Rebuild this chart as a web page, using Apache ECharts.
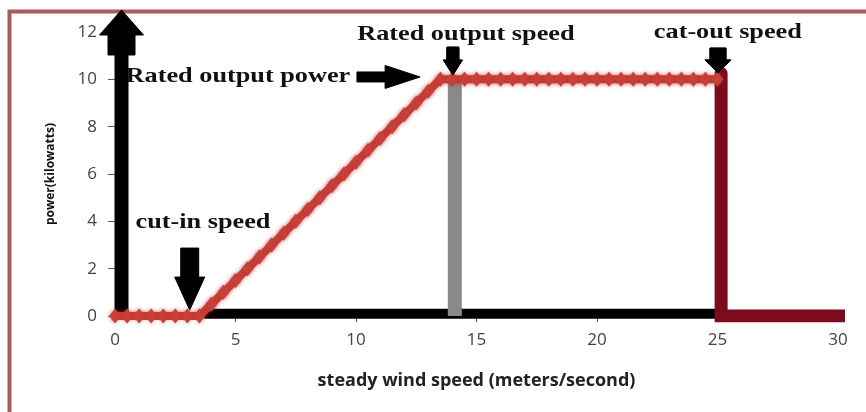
<!DOCTYPE html>
<html>
<head>
<meta charset="utf-8">
<script src="https://cdn.jsdelivr.net/npm/echarts@6/dist/echarts.min.js"></script>
<style>
html,body{margin:0;padding:0;background:#fff;}
#chart{width:866px;height:412px;}
</style>
</head>
<body>
<div id="chart"></div>
<script>
// ---- data ----
const windSpeed = [0,0.5,1,1.5,2,2.5,3,3.5,4,4.5,5,5.5,6,6.5,7,7.5,8,8.5,9,9.5,10,10.5,11,11.5,12,12.5,13,13.5,14,14.5,15,15.5,16,16.5,17,17.5,18,18.5,19,19.5,20,20.5,21,21.5,22,22.5,23,23.5,24,24.5,25];
const powerKW   = [0,0,0,0,0,0,0,0,0.5,1,1.5,2,2.5,3,3.5,4,4.5,5,5.5,6,6.5,7,7.5,8,8.5,9,9.5,10,10,10,10,10,10,10,10,10,10,10,10,10,10,10,10,10,10,10,10,10,10,10,10];
const xTicks = [0,5,10,15,20,25,30];
const yTicks = [0,2,4,6,8,10,12];
// reference lines (speed, power)
const operatingBand = [[3.7,0.1],[25,0.1]];
const ratedSpeedLine = [[14.1,0],[14.1,10]];
const cutOutLine = [[25.15,10.25],[25.15,0],[30.5,0]];
// annotations: text labels
const labelText = ['Rated output speed','Rated output power','cat-out speed','cut-in speed'];
const labelX = [14.56, 5.1, 25.43, 3.65];
const labelY = [11.87, 10.1, 11.96, 3.93];
// arrows: tail -> tip in data units
const arrowFrom = [[0.27,0],[3.1,2.87],[10.04,10.1],[14.02,11.36],[25.02,11.32]];
const arrowTo   = [[0.27,12.93],[3.1,0.25],[12.66,10.1],[14.02,10.18],[25.02,10.27]];
const arrowShape = [ // shaft half width, head length, head half width, collar length, collar half width
  [6.5,25,22,20,13.5],
  [9,33,15,0,0],
  [5,35,11.5,0,0],
  [6,15,9.5,0,0],
  [8,13,13,0,0]
];

const chart = echarts.init(document.getElementById('chart'), null, {renderer:'canvas'});

function arrowItem(params, api){
  const i = params.dataIndex;
  const p1 = api.coord(arrowFrom[i]);
  const p2 = api.coord(arrowTo[i]);
  const [sw, hl, hw, cl, cw] = arrowShape[i];
  const dx = p2[0]-p1[0], dy = p2[1]-p1[1];
  const L = Math.sqrt(dx*dx+dy*dy);
  const ux = dx/L, uy = dy/L, vx = -uy, vy = ux;
  const local = [];
  local.push([0,-sw]);
  if (cl > 0){ local.push([L-hl-cl,-sw]); local.push([L-hl-cl,-cw]); local.push([L-hl,-cw]); }
  else { local.push([L-hl,-sw]); }
  local.push([L-hl,-hw]); local.push([L,0]); local.push([L-hl,hw]);
  if (cl > 0){ local.push([L-hl,cw]); local.push([L-hl-cl,cw]); local.push([L-hl-cl,sw]); }
  else { local.push([L-hl,sw]); }
  local.push([0,sw]);
  const pts = local.map(([a,b]) => [p1[0]+ux*a+vx*b, p1[1]+uy*a+vy*b]);
  return {type:'polygon', shape:{points:pts}, style:{fill:'#000', stroke:'#000', lineWidth:1, lineJoin:'round'}};
}

function labelItem(params, api){
  const i = params.dataIndex;
  const p = api.coord([labelX[i], labelY[i]]);
  return {
    type:'text', x:p[0], y:p[1], scaleX:1.25, scaleY:1,
    style:{text:labelText[i], x:0, y:0, textAlign:'center', textVerticalAlign:'middle',
      font:'bold 21px "Liberation Serif", "Times New Roman", serif', fill:'#111'}
  };
}

const option = {
  animation:false,
  backgroundColor:'#fff',
  grid:{left:115, right:28, top:32, bottom:96},
  graphic:[{type:'rect', shape:{x:9.5, y:11.5, width:900, height:460}, style:{fill:'none', stroke:'#a85c5c', lineWidth:4}, z:-10}],
  xAxis:{
    type:'value', min:0, max:30, interval:5,
    axisLine:{show:false},
    axisTick:{show:true, length:6, lineStyle:{color:'#555'}},
    axisLabel:{margin:16, fontSize:17, color:'#444', fontFamily:'"Open Sans", sans-serif',
      formatter: v => xTicks.includes(v) ? String(v) : ''},
    splitLine:{show:false},
    name:'steady wind speed (meters/second)', nameLocation:'middle', nameGap:56,
    nameTextStyle:{fontSize:18, fontWeight:'bold', color:'#222', fontFamily:'"Open Sans", sans-serif'}
  },
  yAxis:{
    type:'value', min:0, max:12, interval:2,
    axisLine:{show:false},
    axisTick:{show:true, length:7, lineStyle:{color:'#555'}},
    axisLabel:{margin:18, fontSize:17, color:'#444', fontFamily:'"Open Sans", sans-serif',
      formatter: v => yTicks.includes(v) ? String(v) : ''},
    splitLine:{show:false},
    name:'power(kilowatts)', nameLocation:'middle', nameGap:58, nameRotate:90,
    nameTextStyle:{fontSize:12, fontWeight:'bold', color:'#111', fontFamily:'"Open Sans", sans-serif'}
  },
  series:[
    {type:'line', data:operatingBand, symbol:'none', z:2, silent:true,
      lineStyle:{color:'#000', width:10, cap:'butt'}},
    {type:'line', data:ratedSpeedLine, symbol:'none', z:2, silent:true,
      lineStyle:{color:'#8a8a8a', width:14, cap:'butt'}},
    {type:'line', data:cutOutLine, symbol:'none', z:2, silent:true,
      lineStyle:{color:'#7d0b1e', width:13, cap:'round', join:'miter'}},
    {type:'custom', renderItem:arrowItem, data:arrowFrom.map((d,i)=>i), z:3, silent:true},
    {type:'line', data:windSpeed.map((s,i)=>[s, powerKW[i]]), z:4, silent:true,
      symbol:'diamond', symbolSize:[12,15], showAllSymbol:true,
      itemStyle:{color:'#c63f38', shadowBlur:4, shadowColor:'rgba(190,50,40,0.6)'},
      lineStyle:{color:'#c63f38', width:8, shadowBlur:4, shadowColor:'rgba(190,50,40,0.6)'}},
    {type:'custom', renderItem:(p,a)=> (p.dataIndex>=3 ? arrowItem(p,a) : null), data:arrowFrom.map((d,i)=>i), z:5, silent:true},
    {type:'custom', renderItem:labelItem, data:labelText.map((d,i)=>i), z:6, silent:true}
  ]
};
chart.setOption(option);
</script>
</body>
</html>
